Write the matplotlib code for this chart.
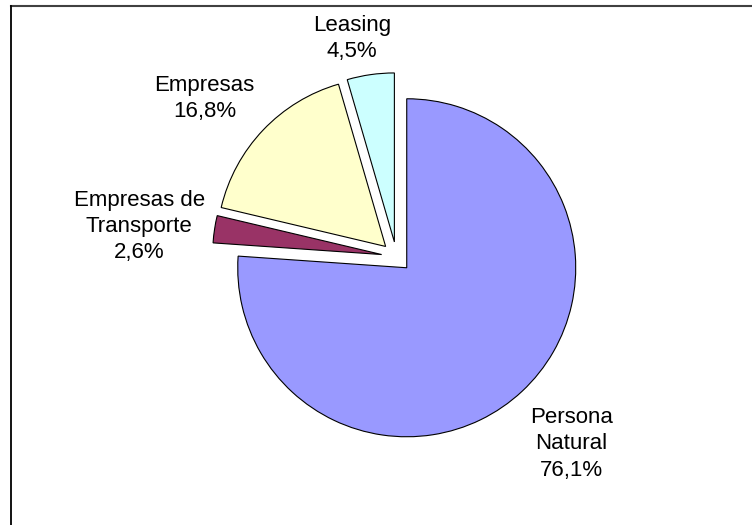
"""
Distribución de la cartera por tipo de cliente (gráfico de torta).
"""

import matplotlib
matplotlib.use("Agg")
import matplotlib.pyplot as plt
from matplotlib.lines import Line2D
import numpy as np

# ─────────────────────────────────────────────────────────────────────────────
# DATOS
# ─────────────────────────────────────────────────────────────────────────────

CATEGORIAS = ["Persona\nNatural", "Empresas de\nTransporte", "Empresas", "Leasing"]
PORCENTAJES = [76.1, 2.6, 16.8, 4.5]
COLORES = ["#9999FF", "#993366", "#FFFFCC", "#CCFFFF"]

# distancia de cada etiqueta al centro (px) y pequeño giro respecto al ángulo medio
DIST_ETIQ = [256, 259, 249, 223]
GIRO_ETIQ = [0.0, 2.0, 4.0, 3.4]

# ─────────────────────────────────────────────────────────────────────────────
# FIGURA
# ─────────────────────────────────────────────────────────────────────────────

W, H = 752, 525
fig = plt.figure(figsize=(W / 100, H / 100), dpi=100)
fig.patch.set_facecolor("white")
ax = fig.add_axes([0, 0, 1, 1])

centro = (396.5, H - 256.8)
radio = 169

wedges, _ = ax.pie(
    PORCENTAJES,
    colors=COLORES,
    startangle=90,
    counterclock=False,
    explode=[15] * len(PORCENTAJES),
    radius=radio,
    center=centro,
    wedgeprops=dict(edgecolor="black", linewidth=0.8),
)

ax.set_xlim(0, W)
ax.set_ylim(0, H)
ax.set_aspect("equal")
ax.axis("off")

# etiquetas "nombre\nxx,x%"
for w, nombre, pct, d, giro in zip(wedges, CATEGORIAS, PORCENTAJES, DIST_ETIQ, GIRO_ETIQ):
    ang = np.deg2rad((w.theta1 + w.theta2) / 2 + giro)
    tx = centro[0] + d * np.cos(ang)
    ty = centro[1] + d * np.sin(ang)
    texto = f"{nombre}\n{pct:.1f}%".replace(".", ",")
    ax.text(tx, ty, texto, ha="center", va="center", fontsize=16,
            family=["Liberation Sans", "DejaVu Sans"], color="black",
            linespacing=1.32)

# marco (solo borde superior e izquierdo visibles)
fig.add_artist(Line2D([10.8 / W, 1.0], [1 - 6 / H, 1 - 6 / H],
                      transform=fig.transFigure, color="#404040", linewidth=1.5))
fig.add_artist(Line2D([10.8 / W, 10.8 / W], [0.0, 1 - 6 / H],
                      transform=fig.transFigure, color="black", linewidth=1.3))

plt.savefig("out.png", dpi=100, facecolor=fig.get_facecolor())
